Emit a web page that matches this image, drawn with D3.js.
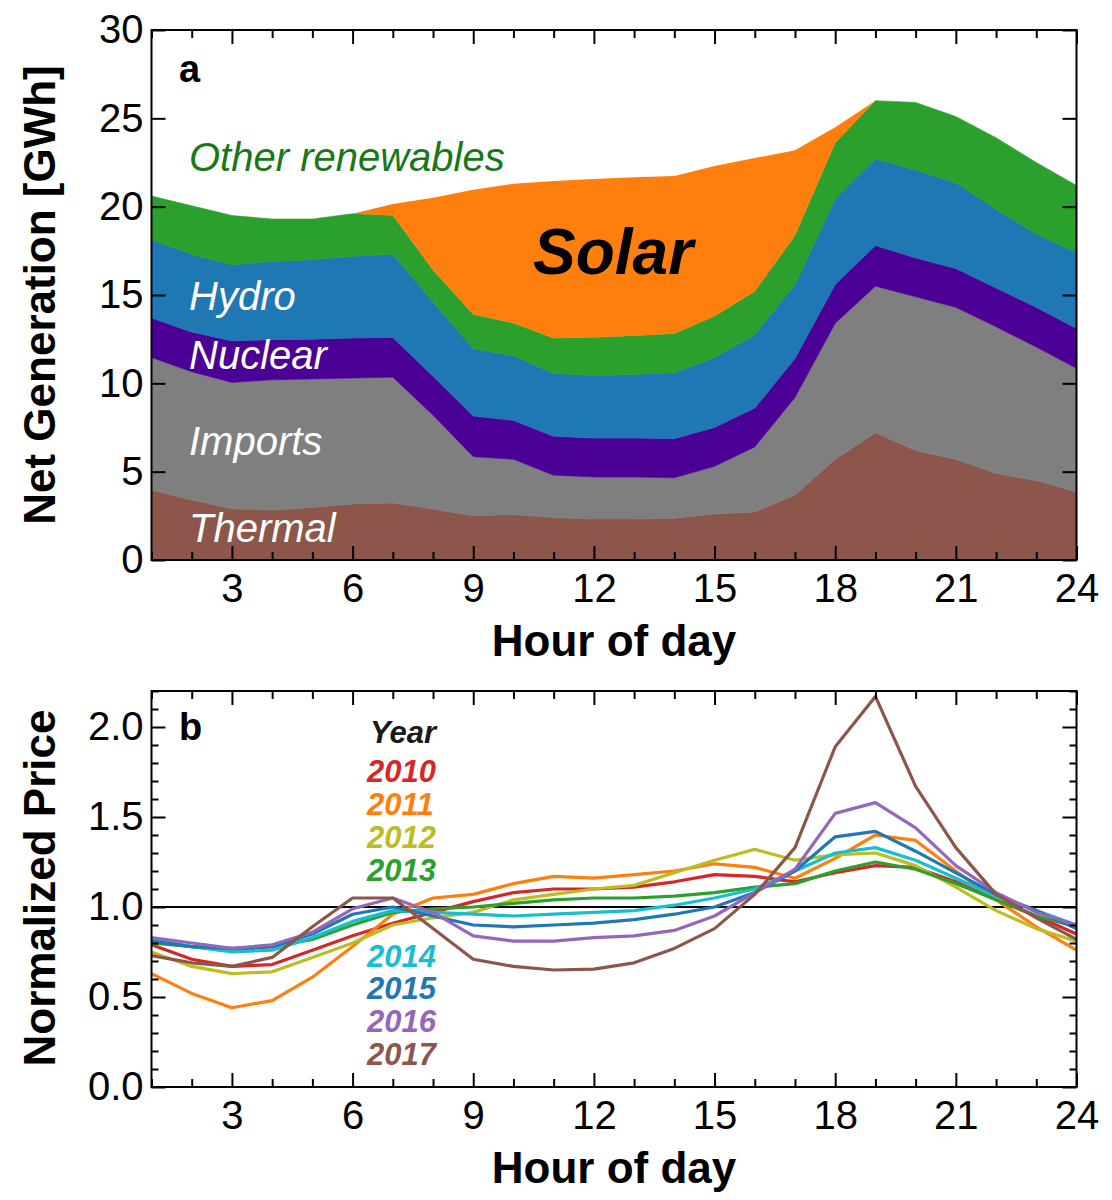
<!DOCTYPE html>
<html>
<head>
<meta charset="utf-8">
<script src="https://cdn.jsdelivr.net/npm/d3@7"></script>
<style>
  html, body { margin: 0; padding: 0; background: #fff; }
  svg { display: block; font-family: "Liberation Sans", Arial, Helvetica, sans-serif; }
</style>
</head>
<body>
<svg id="chart" width="1112" height="1200"></svg>
<script>
// ---------- DATA ----------
const hours = [1,2,3,4,5,6,7,8,9,10,11,12,13,14,15,16,17,18,19,20,21,22,23,24];
const hourTicks = [3,6,9,12,15,18,21,24];
const genTicks = [0,5,10,15,20,25,30];
const priceTicks = [0.0,0.5,1.0,1.5,2.0];

// Panel a: net generation by source [GWh], stacked bottom -> top
const sources = ["Thermal","Imports","Nuclear","Hydro","Other renewables","Solar"];
const thermal    = [3.96,3.40,2.90,2.83,2.97,3.17,3.22,2.88,2.50,2.57,2.40,2.32,2.32,2.37,2.60,2.72,3.68,5.70,7.20,6.20,5.70,4.90,4.50,3.85];
const imports    = [7.50,7.25,7.15,7.37,7.28,7.13,7.13,5.32,3.35,3.13,2.40,2.38,2.38,2.28,2.70,3.68,5.52,7.70,8.30,8.70,8.60,8.30,7.55,7.00];
const nuclear    = [2.24,2.25,2.35,2.27,2.25,2.26,2.25,2.20,2.30,2.20,2.20,2.20,2.20,2.22,2.20,2.20,2.20,2.20,2.30,2.20,2.20,2.20,2.25,2.25];
const hydro      = [4.43,4.40,4.30,4.43,4.50,4.64,4.70,4.20,3.81,3.66,3.55,3.55,3.60,3.73,3.96,4.15,4.20,4.85,4.90,4.97,4.86,4.45,4.15,4.30];
const otherRenew = [2.47,2.75,2.80,2.40,2.30,2.40,2.20,1.80,1.94,1.84,2.00,2.15,2.20,2.20,2.34,2.45,2.75,3.15,3.30,3.83,3.74,4.05,4.05,3.80];
const solar      = [0,0,0,0,0,0,0.65,4.10,7.06,7.90,8.90,8.96,8.97,8.93,8.50,7.55,4.85,0.90,0,0,0,0,0,0];

// Panel b: normalized price by year
const years = ["2010","2011","2012","2013","2014","2015","2016","2017"];
const p2010 = [0.79,0.71,0.67,0.68,0.76,0.84,0.91,0.97,1.03,1.08,1.10,1.10,1.11,1.14,1.18,1.17,1.14,1.19,1.23,1.22,1.14,1.04,0.95,0.85];
const p2011 = [0.63,0.52,0.44,0.48,0.61,0.78,0.96,1.05,1.07,1.13,1.17,1.16,1.18,1.20,1.24,1.22,1.16,1.27,1.40,1.37,1.20,1.04,0.89,0.76];
const p2012 = [0.75,0.67,0.63,0.64,0.72,0.80,0.90,0.94,0.97,1.04,1.07,1.10,1.12,1.19,1.26,1.32,1.26,1.29,1.30,1.23,1.11,0.98,0.88,0.81];
const p2013 = [0.80,0.78,0.76,0.78,0.82,0.90,0.97,0.99,1.00,1.02,1.04,1.05,1.05,1.06,1.08,1.11,1.13,1.20,1.25,1.21,1.13,1.04,0.95,0.89];
const p2014 = [0.82,0.78,0.75,0.76,0.83,0.92,0.98,0.97,0.96,0.95,0.96,0.97,0.98,1.01,1.05,1.10,1.20,1.30,1.33,1.26,1.16,1.06,0.98,0.90];
const p2015 = [0.81,0.78,0.77,0.78,0.85,0.96,1.00,0.95,0.90,0.89,0.90,0.91,0.93,0.96,1.00,1.08,1.20,1.39,1.42,1.31,1.19,1.07,0.98,0.88];
const p2016 = [0.83,0.80,0.77,0.79,0.86,0.99,1.05,0.97,0.84,0.81,0.81,0.83,0.84,0.87,0.95,1.08,1.21,1.52,1.58,1.44,1.23,1.08,0.97,0.90];
const p2017 = [0.73,0.69,0.67,0.72,0.89,1.05,1.05,0.88,0.71,0.67,0.65,0.655,0.69,0.77,0.88,1.07,1.33,1.89,2.17,1.67,1.33,1.07,0.94,0.82];

// ---------- STYLE ----------
const sourceColors = ["#8c564b","#7f7f7f","#4b0096","#1f77b4","#2ca02c","#ff7f0e"];
const yearColors = ["#d62728","#ff7f0e","#bcbd22","#2ca02c","#17becf","#1f77b4","#9467bd","#8c564b"];

const svg = d3.select("#chart");
const xLeft = 151.5, xRight = 1076.5;

const x = d3.scaleLinear().domain([1,24]).range([xLeft, xRight]);
const yA = d3.scaleLinear().domain([0,30]).range([560, 30]);
const yB = d3.scaleLinear().domain([0,2.2]).range([1087, 691]);

const tickFont = 40, titleFont = 44;

function frameAxes(y, top, bottom, yTickVals, yMinorVals, yFmt) {
  const g = svg.append("g");
  g.append("g").attr("transform", `translate(0,${bottom})`)
    .call(d3.axisBottom(x).tickValues(hourTicks).tickSize(-14).tickPadding(14).tickFormat(d3.format("d")));
  g.append("g").attr("transform", `translate(0,${bottom})`)
    .call(d3.axisBottom(x).tickValues(hours.filter(h => h % 3 !== 0)).tickSize(-8).tickFormat(""));
  g.append("g").attr("transform", `translate(0,${top})`)
    .call(d3.axisTop(x).tickValues(hourTicks).tickSize(-14).tickFormat(""));
  g.append("g").attr("transform", `translate(0,${top})`)
    .call(d3.axisTop(x).tickValues(hours.filter(h => h % 3 !== 0)).tickSize(-8).tickFormat(""));
  g.append("g").attr("transform", `translate(${xLeft},0)`)
    .call(d3.axisLeft(y).tickValues(yTickVals).tickSize(-14).tickPadding(8).tickFormat(yFmt));
  g.append("g").attr("transform", `translate(${xRight},0)`)
    .call(d3.axisRight(y).tickValues(yTickVals).tickSize(-14).tickFormat(""));
  if (yMinorVals) {
    g.append("g").attr("transform", `translate(${xLeft},0)`)
      .call(d3.axisLeft(y).tickValues(yMinorVals).tickSize(-7).tickFormat(""));
    g.append("g").attr("transform", `translate(${xRight},0)`)
      .call(d3.axisRight(y).tickValues(yMinorVals).tickSize(-7).tickFormat(""));
  }
  g.selectAll(".domain").remove();
  g.selectAll(".tick line").attr("stroke", "#000").attr("stroke-width", 2);
  g.selectAll(".tick text").attr("font-size", tickFont).attr("fill", "#000")
    .attr("font-family", "'Liberation Sans', Arial, Helvetica, sans-serif");
  g.append("rect").attr("x", xLeft).attr("y", top).attr("width", xRight - xLeft).attr("height", bottom - top)
    .attr("fill", "none").attr("stroke", "#000").attr("stroke-width", 2);
  return g;
}

// ---------- PANEL A ----------
const series = [thermal, imports, nuclear, hydro, otherRenew, solar];
const table = hours.map((h, i) => {
  const row = { hour: h };
  sources.forEach((s, k) => row[s] = series[k][i]);
  return row;
});
const layers = d3.stack().keys(sources)(table);
const area = d3.area()
  .x(d => x(d.data.hour))
  .y0(d => yA(d[0]))
  .y1(d => yA(d[1]));

svg.append("g").selectAll("path").data(layers).join("path")
  .attr("d", area)
  .attr("fill", (d, i) => sourceColors[i])
  .attr("stroke", (d, i) => d.key === "Solar" ? "none" : sourceColors[i])
  .attr("stroke-width", 0.6);

frameAxes(yA, 30, 560, genTicks, null, d3.format("d"));

svg.append("text").attr("x", 179).attr("y", 82).attr("font-size", 38).attr("font-weight", "bold").text("a");
const lab = [
  { t: "Other renewables", y: 171, c: "#187818" },
  { t: "Hydro", y: 310, c: "#fff" },
  { t: "Nuclear", y: 369, c: "#fff" },
  { t: "Imports", y: 455, c: "#fff" },
  { t: "Thermal", y: 542, c: "#fff" }
];
svg.append("g").selectAll("text").data(lab).join("text")
  .attr("x", 189).attr("y", d => d.y).attr("font-size", 40).attr("font-style", "italic")
  .attr("fill", d => d.c).text(d => d.t);
svg.append("text").attr("x", 613).attr("y", 274).attr("text-anchor", "middle")
  .attr("font-size", 64).attr("font-weight", "bold").attr("font-style", "italic").attr("fill", "#000").text("Solar");

svg.append("text").attr("transform", "translate(55,295) rotate(-90)").attr("text-anchor", "middle")
  .attr("font-size", titleFont).attr("font-weight", "bold").text("Net Generation [GWh]");
svg.append("text").attr("x", 614).attr("y", 656).attr("text-anchor", "middle")
  .attr("font-size", titleFont).attr("font-weight", "bold").text("Hour of day");

// ---------- PANEL B ----------
const prices = [p2010, p2011, p2012, p2013, p2014, p2015, p2016, p2017];
svg.append("line").attr("x1", xLeft).attr("x2", xRight).attr("y1", yB(1)).attr("y2", yB(1))
  .attr("stroke", "#000").attr("stroke-width", 2);

const line = d3.line().x((d, i) => x(hours[i])).y(d => yB(d));
svg.append("g").selectAll("path").data(prices).join("path")
  .attr("d", line)
  .attr("fill", "none")
  .attr("stroke", (d, i) => yearColors[i])
  .attr("stroke-width", 3.2)
  .attr("stroke-linejoin", "round");

const minorB = d3.range(0, 23).map(v => v / 10).filter(v => Math.round(v * 10) % 5 !== 0);
frameAxes(yB, 691, 1087, priceTicks, minorB, d3.format(".1f"));

svg.append("text").attr("x", 179).attr("y", 740).attr("font-size", 38).attr("font-weight", "bold").text("b");

const legendY = [782, 815, 848, 881, 967, 999, 1032, 1065];
svg.append("text").attr("x", 370).attr("y", 743).attr("font-size", 31).attr("font-weight", "bold")
  .attr("font-style", "italic").attr("fill", "#1a1a1a").text("Year");
svg.append("g").selectAll("text").data(years).join("text")
  .attr("x", 367).attr("y", (d, i) => legendY[i])
  .attr("font-size", 31).attr("font-weight", "bold").attr("font-style", "italic")
  .attr("fill", (d, i) => yearColors[i]).text(d => d);

svg.append("text").attr("transform", "translate(55,888) rotate(-90)").attr("text-anchor", "middle")
  .attr("font-size", titleFont).attr("font-weight", "bold").text("Normalized Price");
svg.append("text").attr("x", 614).attr("y", 1183).attr("text-anchor", "middle")
  .attr("font-size", titleFont).attr("font-weight", "bold").text("Hour of day");
</script>
</body>
</html>
